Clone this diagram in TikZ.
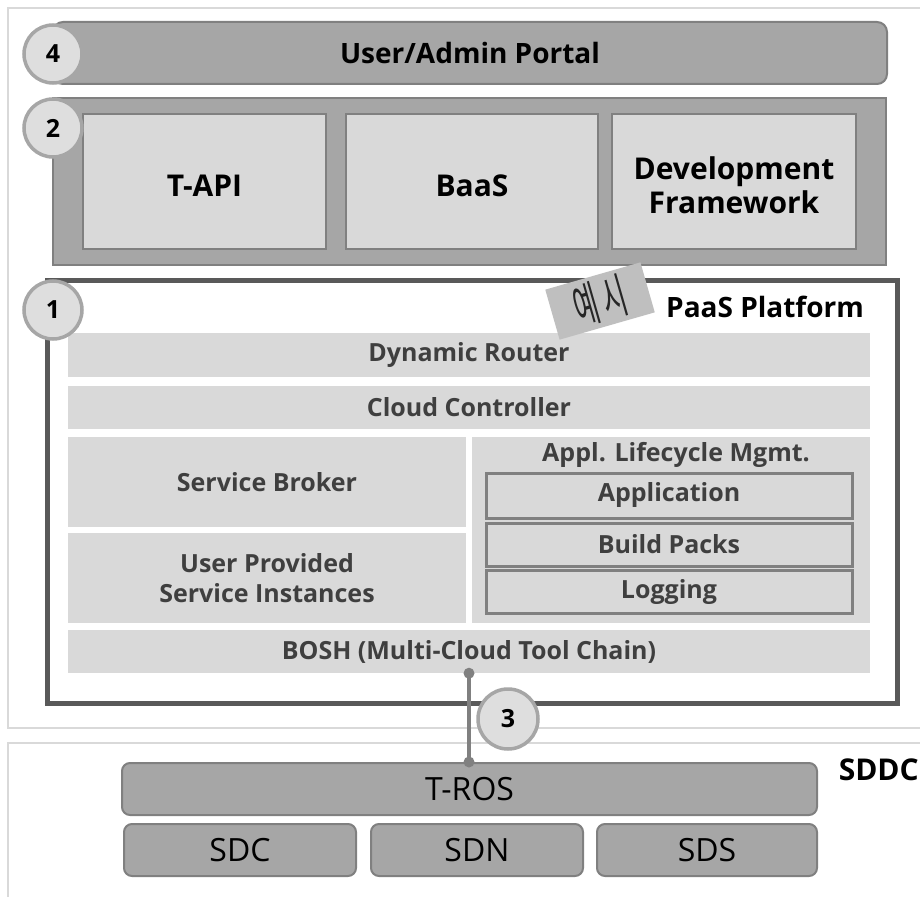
\documentclass[tikz,border=0pt]{standalone}
\usepackage{fontspec}
\usepackage{graphicx}
\setmainfont{Open Sans}
\newfontfamily\kofont{Noto Sans CJK KR}
\definecolor{frameline}{HTML}{D9D9D9}
\definecolor{midgray}{HTML}{A6A6A6}
\definecolor{edgegray}{HTML}{808080}
\definecolor{lightfill}{HTML}{D9D9D9}
\definecolor{darkedge}{HTML}{595959}
\definecolor{innertext}{HTML}{3F3F3F}
\definecolor{tagfill}{HTML}{BFBFBF}
\definecolor{badgefill}{HTML}{DEDEDE}
\tikzset{
  outerframe/.style={draw=frameline, line width=1.5pt},
  layerbar/.style={draw=edgegray, fill=midgray, line width=2pt, inner sep=0pt,
    font=\bfseries\fontsize{28}{33}\selectfont},
  topbox/.style={draw=edgegray, fill=lightfill, line width=2pt, inner sep=0pt, align=center,
    font=\bfseries\fontsize{30}{34}\selectfont},
  platform/.style={draw=darkedge, fill=white, line width=5pt, inner sep=0pt},
  strip/.style={fill=lightfill, inner sep=0pt, align=center, text=innertext,
    font=\bfseries\fontsize{25}{30}\selectfont},
  subbox/.style={draw=edgegray, fill=lightfill, line width=3pt, inner sep=0pt, text=innertext,
    font=\bfseries\fontsize{25}{30}\selectfont},
  infrabar/.style={draw=edgegray, fill=midgray, line width=2pt, rounded corners=8pt, inner sep=0pt,
    font=\fontsize{32}{36}\selectfont},
  badge/.style={circle, draw=midgray, fill=badgefill, line width=3.5pt, minimum size=58pt,
    inner sep=0pt, font=\bfseries\fontsize{25}{29}\selectfont},
  joint/.style={circle, fill=edgegray, minimum size=11pt, inner sep=0pt},
  link/.style={draw=edgegray, line width=3.5pt},
}
\begin{document}
\begin{tikzpicture}[x=1pt, y=-1pt]
\useasboundingbox[fill=white] (0,0) rectangle (920,896);

% light outer frames of the two zones
\draw[outerframe] (8,8) rectangle (935,728);
\draw[outerframe] (8,743) rectangle (935,910);

% layer 4: portal
\node[layerbar, rounded corners=10pt, minimum width=834pt, minimum height=62pt] (portal) at (470,53) {User/Admin Portal};

% layer 2: APIs and frameworks
\node[draw=edgegray, fill=midgray, line width=2pt, minimum width=833pt, minimum height=167pt, inner sep=0pt] (layertwo) at (469.5,181.5) {};
\node[topbox, minimum width=243pt, minimum height=135pt, text height=30pt, text depth=0pt] (tapi) at (204.5,181.5) {T-API};
\node[topbox, minimum width=252pt, minimum height=135pt, text height=30pt, text depth=0pt] (baas) at (472,181.5) {BaaS};
\node[topbox, minimum width=244pt, minimum height=135pt,
  label={[font=\bfseries\fontsize{30}{34}\selectfont, align=center, yshift=-4pt, inner sep=0pt]center:Development\\Framework}] (devfw) at (734,181.5) {};

% layer 1: PaaS platform
\node[platform, minimum width=850pt, minimum height=423pt] (paas) at (472,491.5) {};
\node[font=\bfseries\fontsize{28}{33}\selectfont, anchor=west, inner sep=0pt] (paastitle) at (666,307) {PaaS Platform};

\node[strip, minimum width=802pt, minimum height=44pt] (router) at (469,355) {Dynamic Router};
\node[strip, minimum width=802pt, minimum height=43pt] (cc) at (469,407.5) {Cloud Controller};
\node[strip, minimum width=398pt, minimum height=90pt] (broker) at (267,482) {Service Broker};
\node[strip, minimum width=398pt, minimum height=90pt] (ups) at (267,578) {User Provided\\Service Instances};
\node[strip, minimum width=398pt, minimum height=186pt] (alm) at (671,530) {};
\node[text=innertext, font=\bfseries\fontsize{25}{30}\selectfont, inner sep=0pt] (almtitle) at (676,455) {Appl. Lifecycle Mgmt.};
\node[subbox, minimum width=366pt, minimum height=45pt] (app) at (669,495.5) {Application};
\node[subbox, minimum width=366pt, minimum height=43pt] (bp) at (669,544.5) {Build Packs};
\node[subbox, minimum width=366pt, minimum height=43pt] (logging) at (669,591.5) {Logging};
\node[strip, minimum width=802pt, minimum height=43pt] (bosh) at (469,651.5) {BOSH (Multi-Cloud Tool Chain)};

% sample tag
\node[fill=tagfill, rotate=16, minimum width=99pt, minimum height=52pt, inner sep=0pt,
  text=black!85, font=\kofont\fontsize{48}{50}\selectfont] (tag) at (600,301)
  {\scalebox{0.55}[1]{예\,시}};

% SDDC
\node[infrabar, minimum width=695pt, minimum height=52pt] (tros) at (469.5,789) {T-ROS};
\node[infrabar, minimum width=232pt, minimum height=52pt] (sdc) at (240,850) {SDC};
\node[infrabar, minimum width=212pt, minimum height=52pt] (sdn) at (477,850) {SDN};
\node[infrabar, minimum width=220pt, minimum height=52pt] (sds) at (707,850) {SDS};
\node[anchor=east, inner sep=0pt, font=\bfseries\fontsize{30}{34}\selectfont] (sddc) at (919,770) {SDDC};

% link between BOSH and T-ROS
\coordinate (linktop) at (bosh.south);
\coordinate (linkbot) at (bosh.south |- tros.north);
\draw[link] (linktop) -- (linkbot);
\node[joint] (jtop) at (linktop) {};
\node[joint] (jbot) at (linkbot) {};

% numbered badges
\node[badge] (b4) at (53,54) {4};
\node[badge] (b2) at (53,128) {2};
\node[badge] (b1) at (53,310) {1};
\node[badge, minimum size=60pt] (b3) at (508,719) {3};
\end{tikzpicture}
\end{document}
